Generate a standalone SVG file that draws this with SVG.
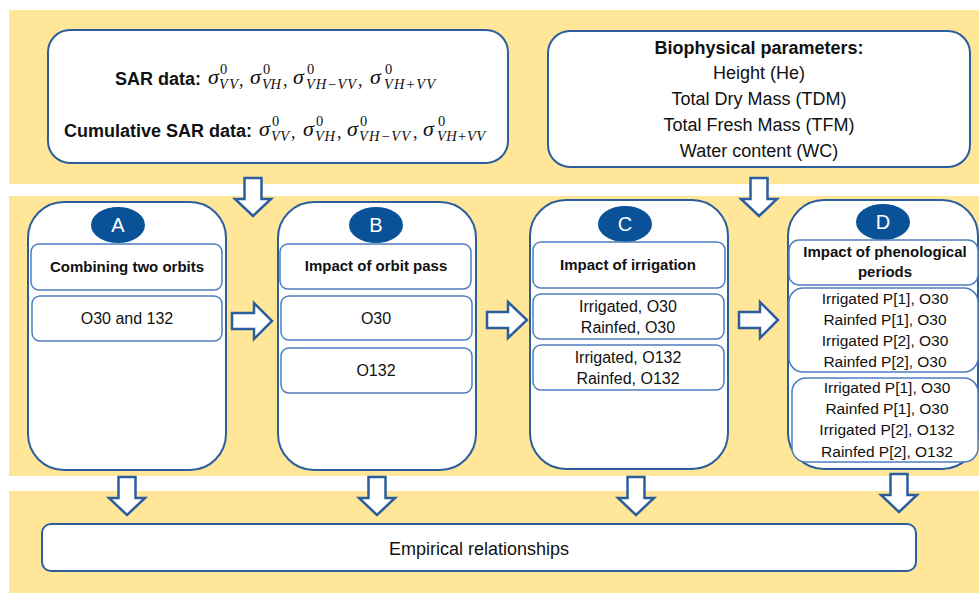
<svg xmlns="http://www.w3.org/2000/svg" xmlns:xlink="http://www.w3.org/1999/xlink" width="979" height="593" viewBox="0 0 979 593">
<style>
.band{fill:#FFE699}
.outer{fill:#fff;stroke:#2C5D9C;stroke-width:2}
.inner{fill:#fff;stroke:#4E7DBF;stroke-width:1.5}
.badge{fill:#0A5298}
.badgeT{font-family:"Liberation Sans",Arial,sans-serif;font-size:20px;fill:#fff;text-anchor:middle}
.arrow{fill:#fff;stroke:#2A5E9E;stroke-width:2.5;stroke-linejoin:miter}
.b{font-family:"Liberation Sans",Arial,sans-serif;font-weight:bold;font-size:18px;fill:#111}
.r{font-family:"Liberation Sans",Arial,sans-serif;font-size:18px;fill:#111}
.hb{font-family:"Liberation Sans",Arial,sans-serif;font-weight:bold;font-size:15px;fill:#111;text-anchor:middle}
.t{font-family:"Liberation Sans",Arial,sans-serif;font-size:16px;fill:#111;text-anchor:middle}
.t2{font-family:"Liberation Sans",Arial,sans-serif;font-size:15.5px;fill:#111;text-anchor:middle}
.sg{font-family:"Liberation Serif","Times New Roman",serif;font-style:italic;font-size:22px;fill:#111}
.sub{font-family:"Liberation Serif","Times New Roman",serif;font-style:italic;font-size:14.5px;fill:#111}
.sup{font-family:"Liberation Serif","Times New Roman",serif;font-size:14.5px;fill:#111}
.cm{font-family:"Liberation Serif","Times New Roman",serif;font-size:18px;fill:#111}
.c{text-anchor:middle}
</style>
<defs>
<path id="down" d="M-8.5,0 H8.5 V21 H18 L0,38 L-18,21 H-8.5 Z"/>
</defs>

<g id="bands">
<rect class="band" x="9" y="10" width="970" height="174"/>
<rect class="band" x="9" y="196" width="970" height="280"/>
<rect class="band" x="9" y="491" width="970" height="102"/>
</g>

<g id="sar">
<rect class="outer" x="48" y="30" width="460" height="133" rx="22"/>
<text class="b" x="115" y="85">SAR data:</text>
<text class="sg" x="208" y="84">σ</text><text class="sup" x="220" y="74">0</text><text class="sub" x="219" y="89" textLength="19" lengthAdjust="spacing">VV</text><text class="cm" x="239" y="86">,</text>
<text class="sg" x="250" y="84">σ</text><text class="sup" x="263" y="74">0</text><text class="sub" x="262" y="89" textLength="19" lengthAdjust="spacing">VH</text><text class="cm" x="283" y="86">,</text>
<text class="sg" x="293" y="84">σ</text><text class="sup" x="307" y="74">0</text><text class="sub" x="306" y="89" textLength="50" lengthAdjust="spacing">VH−VV</text><text class="cm" x="358" y="86">,</text>
<text class="sg" x="370" y="84">σ</text><text class="sup" x="385" y="74">0</text><text class="sub" x="384" y="89" textLength="51" lengthAdjust="spacing">VH+VV</text>
<text class="b" x="64" y="137">Cumulative SAR data:</text>
<text class="sg" x="259" y="136">σ</text><text class="sup" x="272" y="126">0</text><text class="sub" x="271" y="141" textLength="18" lengthAdjust="spacing">VV</text><text class="cm" x="291" y="138">,</text>
<text class="sg" x="303" y="136">σ</text><text class="sup" x="316" y="126">0</text><text class="sub" x="315" y="141" textLength="20" lengthAdjust="spacing">VH</text><text class="cm" x="337" y="138">,</text>
<text class="sg" x="347" y="136">σ</text><text class="sup" x="360" y="126">0</text><text class="sub" x="359" y="141" textLength="51" lengthAdjust="spacing">VH−VV</text><text class="cm" x="413" y="138">,</text>
<text class="sg" x="423" y="136">σ</text><text class="sup" x="438" y="126">0</text><text class="sub" x="437" y="141" textLength="48" lengthAdjust="spacing">VH+VV</text>
</g>

<g id="biophysical">
<rect class="outer" x="548" y="31" width="422" height="136" rx="22"/>
<text class="b c" x="759" y="54">Biophysical parameters:</text>
<text class="r c" x="759" y="79">Height (He)</text>
<text class="r c" x="759" y="105">Total Dry Mass (TDM)</text>
<text class="r c" x="759" y="131">Total Fresh Mass (TFM)</text>
<text class="r c" x="759" y="157">Water content (WC)</text>
</g>

<g id="A">
<rect class="outer" x="28" y="202" width="198" height="268" rx="36"/>
<ellipse class="badge" cx="118" cy="225" rx="27" ry="18"/>
<text class="badgeT" x="118" y="232">A</text>
<rect class="inner" x="31" y="244" width="191" height="46" rx="8"/>
<text class="hb" x="127" y="272">Combining two orbits</text>
<rect class="inner" x="32" y="296" width="190" height="45" rx="8"/>
<text class="t" x="127" y="324">O30 and 132</text>
</g>

<g id="B">
<rect class="outer" x="278" y="202" width="198" height="268" rx="36"/>
<ellipse class="badge" cx="376" cy="225" rx="27" ry="18"/>
<text class="badgeT" x="376" y="232">B</text>
<rect class="inner" x="280" y="244" width="191" height="45" rx="8"/>
<text class="hb" x="376" y="271">Impact of orbit pass</text>
<rect class="inner" x="281" y="296" width="191" height="44" rx="8"/>
<text class="t" x="376" y="324">O30</text>
<rect class="inner" x="281" y="348" width="191" height="45" rx="8"/>
<text class="t" x="376" y="376">O132</text>
</g>

<g id="C">
<rect class="outer" x="530" y="200" width="198" height="269" rx="36"/>
<ellipse class="badge" cx="625" cy="224" rx="27" ry="18"/>
<text class="badgeT" x="625" y="231">C</text>
<rect class="inner" x="533" y="242" width="192" height="46" rx="8"/>
<text class="hb" x="628" y="270">Impact of irrigation</text>
<rect class="inner" x="533" y="294" width="191" height="45" rx="8"/>
<text class="t" x="628" y="312">Irrigated, O30</text>
<text class="t" x="628" y="333">Rainfed, O30</text>
<rect class="inner" x="533" y="345" width="191" height="45" rx="8"/>
<text class="t" x="628" y="363">Irrigated, O132</text>
<text class="t" x="628" y="384">Rainfed, O132</text>
</g>

<g id="D">
<rect class="outer" x="788" y="200" width="190" height="269" rx="36"/>
<ellipse class="badge" cx="883" cy="222" rx="27" ry="18"/>
<text class="badgeT" x="883" y="229">D</text>
<rect class="inner" x="789" y="240" width="189" height="45" rx="10"/>
<text class="hb" x="885" y="257" font-size="14.5">Impact of phenological</text>
<text class="hb" x="885" y="277" font-size="14.5">periods</text>
<rect class="inner" x="789" y="288" width="189" height="84" rx="14"/>
<text class="t2" x="885" y="304">Irrigated P[1], O30</text>
<text class="t2" x="885" y="325">Rainfed P[1], O30</text>
<text class="t2" x="885" y="346">Irrigated P[2], O30</text>
<text class="t2" x="885" y="367">Rainfed P[2], O30</text>
<rect class="inner" x="792" y="378" width="186" height="84" rx="14"/>
<text class="t2" x="887" y="393">Irrigated P[1], O30</text>
<text class="t2" x="887" y="414">Rainfed P[1], O30</text>
<text class="t2" x="887" y="435">Irrigated P[2], O132</text>
<text class="t2" x="887" y="457">Rainfed P[2], O132</text>
</g>

<g id="empirical">
<rect class="outer" x="42" y="524" width="874" height="47" rx="9"/>
<text class="r c" x="479" y="555" font-size="18.5">Empirical relationships</text>
</g>

<g id="connectors">
<use xlink:href="#down" href="#down" class="arrow" x="253" y="178"/>
<use xlink:href="#down" href="#down" class="arrow" x="759" y="178"/>
<path class="arrow" d="M232,313 H254 V303 L272,321 L254,339 V329 H232 Z"/>
<path class="arrow" d="M487,312 H508 V302 L527,320 L508,338 V328 H487 Z"/>
<path class="arrow" d="M739,312 H760 V302 L778,320 L760,338 V328 H739 Z"/>
<use xlink:href="#down" href="#down" class="arrow" x="127" y="477"/>
<use xlink:href="#down" href="#down" class="arrow" x="377" y="477"/>
<use xlink:href="#down" href="#down" class="arrow" x="636" y="477"/>
<use xlink:href="#down" href="#down" class="arrow" x="899" y="474"/>
</g>
</svg>
